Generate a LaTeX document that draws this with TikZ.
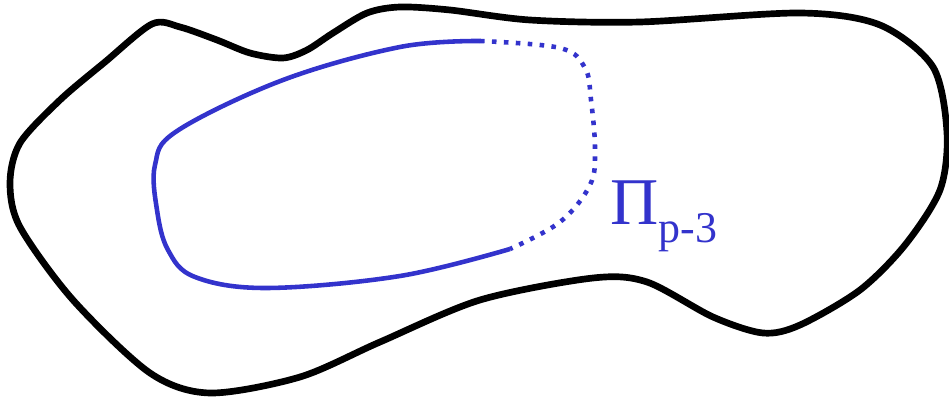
\documentclass[tikz,border=0pt]{standalone}
\usepackage{fontspec}
\setmainfont{Liberation Serif}
\usepackage{xcolor}
\usepackage{tikz}
\definecolor{piblue}{RGB}{51,51,204}

\begin{document}
\begin{tikzpicture}[x=0.02cm, y=-0.02cm,
    outer/.style={draw=black, line width=3.8pt, line join=round},
    surf/.style={draw=piblue, line width=2.6pt},
    surfdot/.style={surf, dash pattern=on 2.6pt off 4.2pt},
    lbl/.style={text=piblue, anchor=base west, inner sep=0pt}]
  \useasboundingbox (0,0) rectangle (949,398);
  % outer region
  \draw[outer] plot[smooth cycle, tension=0.5] coordinates {
    (152,24) (180,27) (217,40) (250,53) (283,58) (307,50) (333,33)
    (367,13) (400,7) (450,10) (530,20) (640,22) (800,13) (880,25)
    (933,67) (947,133) (940,190) (905,245) (860,290) (800,325)
    (763,333) (713,317) (647,282) (593,278) (480,300) (380,342)
    (300,377) (210,393) (150,373) (73,300) (20,227) (10,183)
    (20,143) (60,100) (105,62)};
  % inner surface, solid part
  \draw[surf] plot[smooth, tension=0.6] coordinates {
    (480,41) (400,47) (283,80) (177,131) (155,165) (157,210)
    (168,250) (195,277) (267,288) (400,276) (510,249)};
  % inner surface, dotted part
  \draw[surfdot] plot[smooth, tension=0.6] coordinates {
    (480,41) (560,48) (585,68) (591,100) (595,150) (590,185)
    (560,222) (510,249)};
  \node[lbl] (pilabel) at (610,225)
    {\fontsize{38}{38}\selectfont Π\raisebox{-10pt}{\fontsize{25}{25}\selectfont p-3}};
\end{tikzpicture}
\end{document}
